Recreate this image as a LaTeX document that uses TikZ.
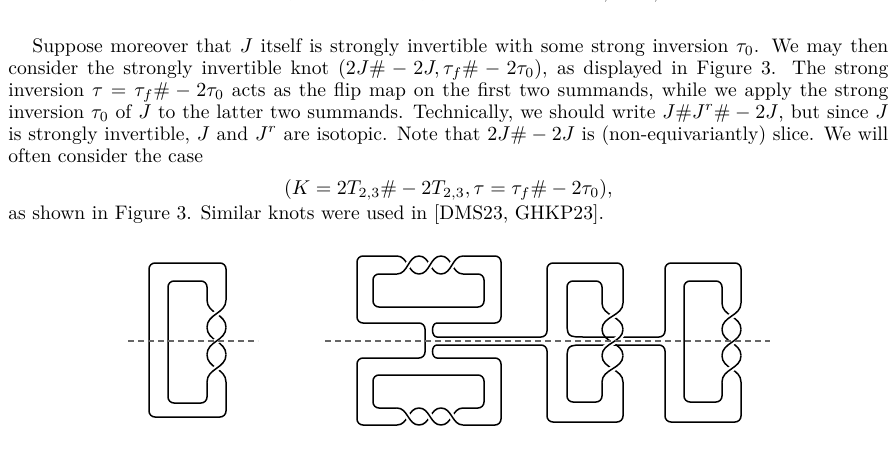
\documentclass[tikz,border=0pt]{standalone}
\usepackage{amsmath}
\usepackage{xcolor}
\usetikzlibrary{positioning}
\definecolor{axisgray}{HTML}{666666}

% vertical twist: left x, right x, top y, height of one crossing
\newcommand{\vtwist}[4]{%
  \foreach \k in {0,1,2} {
    \pgfmathsetmacro{\ya}{#3+\k*#4}
    \pgfmathsetmacro{\yb}{#3+(\k+1)*#4}
    \pgfmathsetmacro{\ym}{#3+(\k+0.5)*#4}
    \draw[strand] (#1,\ya) .. controls (#1,\ym) and (#2,\ym) .. (#2,\yb);
    \draw[strand, over] (#2,\ya) .. controls (#2,\ym) and (#1,\ym) .. (#1,\yb);
  }}
% horizontal twist: left x, upper y, lower y, width of one crossing
\newcommand{\htwist}[4]{%
  \foreach \k in {0,1,2} {
    \pgfmathsetmacro{\xa}{#1+\k*#4}
    \pgfmathsetmacro{\xb}{#1+(\k+1)*#4}
    \pgfmathsetmacro{\xm}{#1+(\k+0.5)*#4}
    \draw[strand] (\xa,#2) .. controls (\xm,#2) and (\xm,#3) .. (\xb,#3);
    \draw[strand, over] (\xa,#3) .. controls (\xm,#3) and (\xm,#2) .. (\xb,#2);
  }}

\begin{document}
\begin{tikzpicture}[
  x=0.5pt, y=-0.5pt,
  strand/.style={line width=0.75pt, rounded corners=3pt},
  over/.style={preaction={draw=white, line width=3pt}},
  axis/.style={axisgray, line width=0.65pt, dash pattern=on 3pt off 2pt},
  txt/.style={font=\fontsize{9.8}{11}\selectfont},
]
\useasboundingbox (0,0) rectangle (896,456);

% Text above the figure
\node[anchor=base, txt] (prevline) at (470,-4) {Figure 2. A strong inversion on $J=T_{2,3}\#T_{2,3}$.};
\node[anchor=north west, inner sep=0pt, text width=440pt, align=justify, txt] (para) at (8,38) {%
  \hspace*{12pt}Suppose moreover that $J$ itself is strongly invertible with some strong inversion $\tau_0$. We may then consider the strongly invertible knot $(2J\#-2J,\tau_f\#-2\tau_0)$, as displayed in Figure 3. The strong inversion $\tau=\tau_f\#-2\tau_0$ acts as the flip map on the first two summands, while we apply the strong inversion $\tau_0$ of $J$ to the latter two summands. Technically, we should write $J\#J^r\#-2J$, but since $J$ is strongly invertible, $J$ and $J^r$ are isotopic. Note that $2J\#-2J$ is (non-equivariantly) slice. We will often consider the case
  \abovedisplayskip=5pt\abovedisplayshortskip=5pt
  \belowdisplayskip=1.5pt\belowdisplayshortskip=1.5pt
  \[(K=2T_{2,3}\#-2T_{2,3},\tau=\tau_f\#-2\tau_0),\]
  as shown in Figure 3. Similar knots were used in [DMS23, GHKP23].};

% (a) the knot J
\draw[strand] (226,300) -- (226,263) -- (149,263) -- (149,417) -- (226,417) -- (226,382);
\draw[strand] (207,300) -- (207,281) -- (168,281) -- (168,403) -- (207,403) -- (207,382);
\vtwist{207}{226}{300}{27.33}
\draw[axis] (128,341) -- (258,341);

% (b) left part, the two flipped summands
\draw[strand] (397,256) -- (357,256) -- (357,323) -- (425,323) -- (425,358) -- (357,358) -- (357,425) -- (397,425);
\draw[strand] (397,274) -- (373,274) -- (373,307) -- (484,307) -- (484,274) -- (463,274);
\draw[strand] (397,408) -- (373,408) -- (373,375) -- (484,375) -- (484,408) -- (463,408);
\draw[strand] (463,256) -- (501,256) -- (501,323) -- (443,323) .. controls (431,323) and (431,337) .. (443,337)
  -- (547,337) -- (547,263) -- (623,263) -- (623,303);
\draw[strand] (463,425) -- (501,425) -- (501,358) -- (443,358) .. controls (431,358) and (431,345) .. (443,345)
  -- (547,345) -- (547,422) -- (623,422) -- (623,382);
\htwist{397}{256}{274}{22}
\htwist{397}{425}{408}{22}

% (b) right part, the summands -2J
\draw[strand] (602,303) -- (602,281) -- (567,281) -- (567,313) .. controls (567,337) .. (592,337)
  -- (665,337) -- (665,263) -- (741,263) -- (741,303);
\draw[strand] (602,382) -- (602,402) -- (567,402) -- (567,369) .. controls (567,345) .. (592,345)
  -- (665,345) -- (665,422) -- (741,422) -- (741,382);
\draw[strand] (722,303) -- (722,281) -- (684,281) -- (684,402) -- (722,402) -- (722,382);
\vtwist{602}{623}{303}{26.33}
\vtwist{722}{741}{303}{26.33}
\draw[axis] (325,341) -- (770,341);

% Captions, cut by the page edge
\node[anchor=north, txt] (capa) at (490,451) {(a)};
\node[anchor=north, txt] (capb) at (666,451) {(b)};
\end{tikzpicture}
\end{document}
